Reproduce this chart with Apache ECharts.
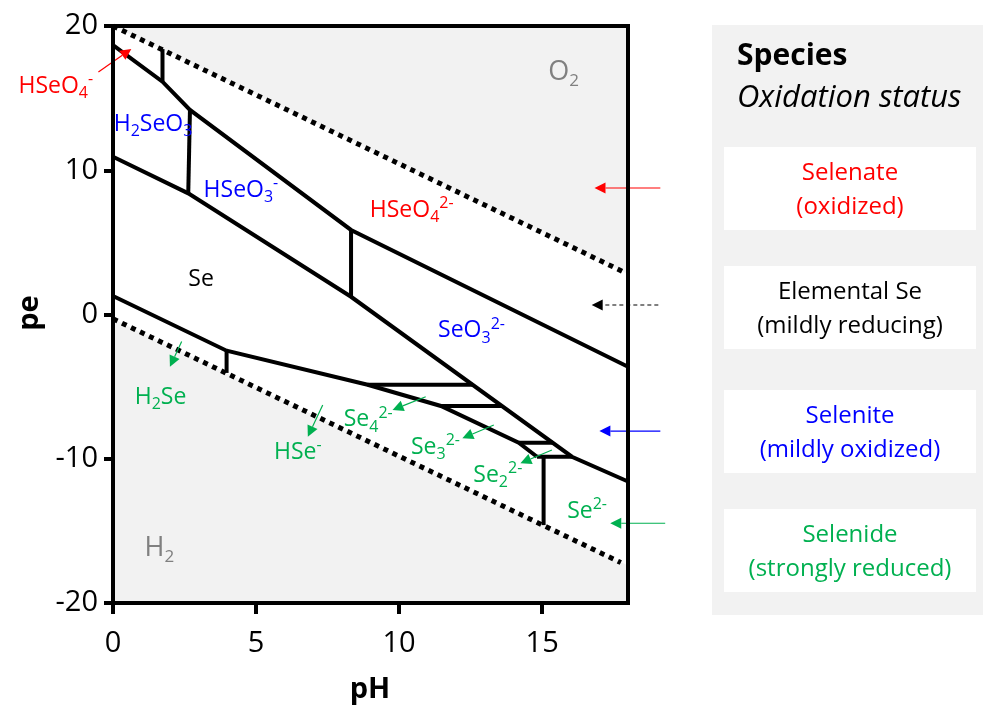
<!DOCTYPE html>
<html><head><meta charset="utf-8">
<script src="https://cdn.jsdelivr.net/npm/echarts@6/dist/echarts.min.js"></script>
<style>html,body{margin:0;padding:0;background:#fff}#c{width:983px;height:706px}</style>
</head><body><div id="c"></div>
<script>
// ---------- axis ranges / ticks ----------
const phRange = [0, 18];
const peRange = [-20, 20];
const xTicks = [0, 5, 10, 15];
const yTicks = [-20, -10, 0, 10, 20];

// ---------- water stability limits (dotted) ----------
const o2Limit = [[0, 20], [17.85, 2.95]];
const h2Limit = [[0, -0.3], [17.75, -17.2]];
const stableRegion = [[0, 20], [18, 2.8], [18, -17.4], [0, -0.3]];

// ---------- predominance boundaries (solid) ----------
const selenateBoundary = [[0, 18.68], [1.73, 16.14], [2.69, 14.18], [8.32, 5.86], [18, -3.62]];
const hseo4Split = [[1.73, 18.4], [1.73, 16.14]];
const h2seo3Split = [[2.69, 14.18], [2.63, 8.40]];
const hseo3Split = [[8.32, 5.86], [8.32, 1.23]];
const seUpperBoundary = [[0, 10.94], [2.63, 8.40], [8.32, 1.23], [16.04, -9.86], [18, -11.58]];
const seLowerBoundary = [[0, 1.28], [3.97, -2.51], [8.9, -4.87], [11.46, -6.34], [14.18, -8.89], [14.82, -9.86]];
const h2seSplit = [[3.97, -2.51], [3.97, -4.05]];
const se4Top = [[8.9, -4.87], [12.57, -4.87]];
const se3Top = [[11.46, -6.34], [13.59, -6.34]];
const se2Top = [[14.18, -8.89], [15.36, -8.89]];
const se2Bottom = [[14.82, -9.86], [16.04, -9.86]];
const hseSplit = [[15.05, -9.86], [15.05, -14.6]];

// ---------- species labels ----------
const labelText = [
  '{n|O}{b|2}', '{n|H}{b|2}', '{n|HSeO}{b|4}{t|-}', '{n|H}{b|2}{n|SeO}{b|3}',
  '{n|HSeO}{b|3}{t|-}', '{n|HSeO}{b|4}{t|2-}', '{n|Se}', '{n|SeO}{b|3}{t|2-}',
  '{n|H}{b|2}{n|Se}', '{n|HSe}{t|-}', '{n|Se}{b|4}{t|2-}', '{n|Se}{b|3}{t|2-}',
  '{n|Se}{b|2}{t|2-}', '{n|Se}{t|2-}'
];
const labelAt = [
  [15.75, 16.8], [1.62, -16.2], [-2.0, 15.8], [1.4, 13.2],
  [4.47, 8.63], [10.44, 7.18], [3.08, 2.4], [12.53, -1.14],
  [1.66, -5.72], [6.46, -9.53], [8.92, -7.31], [11.27, -9.25],
  [13.45, -11.13], [16.57, -13.62]
];
const labelKind = ['gas', 'gas', 'selenate', 'selenite', 'selenite', 'selenate', 'elemental', 'selenite',
  'selenide', 'selenide', 'selenide', 'selenide', 'selenide', 'selenide'];

// ---------- arrows: [fromPH, fromPE, toPH, toPE] ----------
const arrowPath = [
  [-0.51, 16.81, 0.64, 18.41],
  [2.40, -1.88, 1.99, -3.62],
  [7.33, -6.27, 6.81, -8.47],
  [10.93, -5.7, 9.77, -6.62],
  [13.31, -7.66, 12.21, -8.58],
  [15.34, -9.39, 14.24, -10.31],
  [19.3, -14.47, 17.38, -14.47],
  [19.13, 8.77, 16.83, 8.77],
  [19.06, 0.66, 16.73, 0.66],
  [19.13, -8.08, 17.0, -8.08]
];
const arrowKind = ['selenate', 'selenide', 'selenide', 'selenide', 'selenide', 'selenide', 'selenide',
  'selenate', 'elemental', 'selenite'];
const arrowDashed = [false, false, false, false, false, false, false, false, true, false];

// ---------- side panel ----------
const panelTitle = 'Species';
const panelSubtitle = 'Oxidation status';
const panelNames = ['Selenate', 'Elemental Se', 'Selenite', 'Selenide'];
const panelStatus = ['(oxidized)', '(mildly reducing)', '(mildly oxidized)', '(strongly reduced)'];
const panelKind = ['selenate', 'elemental', 'selenite', 'selenide'];

// ---------- styles ----------
const FONT = '"Open Sans", "Noto Sans", sans-serif';
const colorOf = { gas: '#808080', selenate: '#ff0000', selenite: '#0000ff', elemental: '#000000', selenide: '#00b050' };

function richFor(c, big) {
  const fs = big ? 27 : 23, sub = big ? 17 : 16, lh = big ? 34 : 30;
  return {
    n: { fontSize: fs, fontFamily: FONT, fill: c, lineHeight: lh, verticalAlign: 'middle' },
    b: { fontSize: sub, fontFamily: FONT, fill: c, verticalAlign: 'bottom', lineHeight: sub },
    t: { fontSize: sub, fontFamily: FONT, fill: c, verticalAlign: 'top', lineHeight: sub }
  };
}

function boundary(data, dotted) {
  return {
    type: 'line', data: data, showSymbol: false, symbol: 'none', silent: true, z: 3,
    animation: false,
    lineStyle: dotted ? { color: '#000', width: 5, type: [5, 5], cap: 'butt' }
                      : { color: '#000', width: 4, cap: 'butt', join: 'miter' }
  };
}

const chart = echarts.init(document.getElementById('c'), null, { renderer: 'canvas' });

const graphics = [
  { type: 'rect', shape: { x: 712, y: 25, width: 271, height: 590 }, style: { fill: '#f2f2f2' } },
  { type: 'text', x: 737, y: 56, style: { text: panelTitle, font: 'bold 30px ' + FONT, fill: '#000', verticalAlign: 'middle' } },
  { type: 'text', x: 737, y: 98, style: { text: panelSubtitle, font: 'italic 31px ' + FONT, fill: '#000', verticalAlign: 'middle' } },
  { type: 'text', x: 370, y: 690, style: { text: 'pH', font: 'bold 29px ' + FONT, fill: '#000', align: 'center', verticalAlign: 'middle' } },
  { type: 'text', x: 30, y: 313, rotation: Math.PI / 2, style: { text: 'pe', font: 'bold 29px ' + FONT, fill: '#000', align: 'center', verticalAlign: 'middle' } }
];
const boxTop = [147, 266, 390, 509];
panelNames.forEach(function (nm, i) {
  graphics.push({ type: 'rect', shape: { x: 724, y: boxTop[i], width: 252, height: 83 }, style: { fill: '#ffffff' } });
  graphics.push({ type: 'text', x: 850, y: boxTop[i] + 26, style: { text: nm, font: '24px ' + FONT, fill: colorOf[panelKind[i]], align: 'center', verticalAlign: 'middle' } });
  graphics.push({ type: 'text', x: 850, y: boxTop[i] + 60, style: { text: panelStatus[i], font: '24px ' + FONT, fill: colorOf[panelKind[i]], align: 'center', verticalAlign: 'middle' } });
});

const axisFont = { color: '#000', fontSize: 29, fontFamily: FONT };

chart.setOption({
  animation: false,
  backgroundColor: '#ffffff',
  grid: { left: 113, top: 26, width: 515, height: 577, show: true, backgroundColor: '#f2f2f2', borderColor: '#000', borderWidth: 4 },
  xAxis: [
    { type: 'value', min: phRange[0], max: phRange[1], interval: 5, position: 'bottom', z: 10,
      axisLine: { show: true, onZero: false, lineStyle: { color: '#000', width: 4 } },
      axisTick: { show: true, customValues: xTicks, length: 11, lineStyle: { color: '#000', width: 4 } },
      axisLabel: { customValues: xTicks, margin: 26, ...axisFont },
      splitLine: { show: false } },
    { type: 'value', min: phRange[0], max: phRange[1], position: 'top', z: 10,
      axisLine: { show: true, onZero: false, lineStyle: { color: '#000', width: 4 } },
      axisTick: { show: false }, axisLabel: { show: false }, splitLine: { show: false } }
  ],
  yAxis: [
    { type: 'value', min: peRange[0], max: peRange[1], interval: 10, position: 'left', z: 10,
      axisLine: { show: true, onZero: false, lineStyle: { color: '#000', width: 4 } },
      axisTick: { show: true, customValues: yTicks, length: 9, lineStyle: { color: '#000', width: 4 } },
      axisLabel: { customValues: yTicks, margin: 15, ...axisFont },
      splitLine: { show: false } },
    { type: 'value', min: peRange[0], max: peRange[1], position: 'right', z: 10,
      axisLine: { show: true, onZero: false, lineStyle: { color: '#000', width: 4 } },
      axisTick: { show: false }, axisLabel: { show: false }, splitLine: { show: false } }
  ],
  graphic: graphics,
  series: [
    { type: 'custom', z: 1, silent: true, clip: true, data: [0],
      renderItem: function (params, api) {
        const pts = stableRegion.map(function (p) { return api.coord(p); });
        return { type: 'polygon', shape: { points: pts }, style: { fill: '#ffffff' } };
      } },
    boundary(o2Limit, true), boundary(h2Limit, true),
    boundary(selenateBoundary), boundary(hseo4Split), boundary(h2seo3Split), boundary(hseo3Split),
    boundary(seUpperBoundary), boundary(seLowerBoundary), boundary(h2seSplit),
    boundary(se4Top), boundary(se3Top), boundary(se2Top), boundary(se2Bottom), boundary(hseSplit),
    { type: 'custom', z: 5, silent: true, clip: false, data: labelAt,
      renderItem: function (params, api) {
        const i = params.dataIndex;
        const p = api.coord([api.value(0), api.value(1)]);
        const c = colorOf[labelKind[i]];
        return { type: 'text', x: p[0], y: p[1], style: { text: labelText[i], rich: richFor(c, labelKind[i] === 'gas'), fill: c, align: 'center', verticalAlign: 'middle' } };
      } },
    { type: 'custom', z: 6, silent: true, clip: false, data: arrowPath,
      renderItem: function (params, api) {
        const i = params.dataIndex;
        const p1 = api.coord([api.value(0), api.value(1)]);
        const p2 = api.coord([api.value(2), api.value(3)]);
        const c = colorOf[arrowKind[i]];
        const dx = p2[0] - p1[0], dy = p2[1] - p1[1];
        const L = Math.sqrt(dx * dx + dy * dy);
        const ux = dx / L, uy = dy / L;
        const hl = 11, hw = 5.5;
        const base = [p2[0] - ux * hl, p2[1] - uy * hl];
        const left = [base[0] - uy * hw, base[1] + ux * hw];
        const right = [base[0] + uy * hw, base[1] - ux * hw];
        return { type: 'group', children: [
          { type: 'line', shape: { x1: p1[0], y1: p1[1], x2: base[0], y2: base[1] },
            style: { stroke: c, lineWidth: 1.2, lineDash: arrowDashed[i] ? [4, 3] : null } },
          { type: 'polygon', shape: { points: [p2, left, right] }, style: { fill: c } }
        ] };
      } }
  ]
});
</script></body></html>
